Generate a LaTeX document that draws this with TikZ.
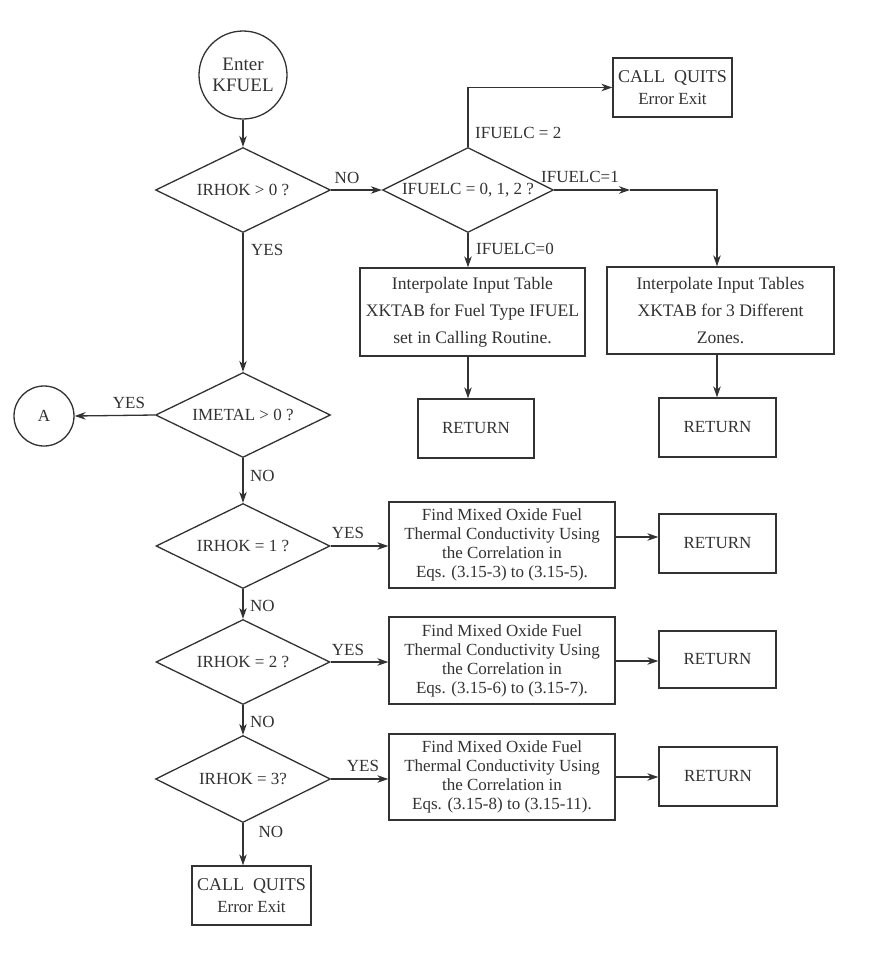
\documentclass[tikz,border=0pt]{standalone}
\usepackage{fontspec}
\setmainfont{Liberation Serif}
\usetikzlibrary{shapes.geometric,arrows.meta}
\definecolor{ink}{RGB}{50,50,50}
\tikzset{
  base/.style={draw=ink, line width=1.3pt, text=ink, inner sep=0pt,
    font=\fontsize{17}{19}\selectfont, align=center},
  decision/.style={base, diamond, shape aspect=2, minimum width=#1, minimum height=85pt},
  procbox/.style={base, rectangle, minimum width=226pt, minimum height=86pt},
  interpbox/.style={base, rectangle, minimum height=88pt, font=\fontsize{17.6}{27}\selectfont},
  retbox/.style={base, rectangle, minimum width=117pt, minimum height=59pt},
  quitbox/.style={base, rectangle, minimum width=119pt, minimum height=59pt, font=\fontsize{17}{22}\selectfont},
  termcircle/.style={base, circle},
  arr/.style={draw=ink, line width=1.3pt, -{Stealth[length=11pt,width=7.5pt,inset=3.5pt]}},
  lbl/.style={text=ink, inner sep=0pt, font=\fontsize{17}{19}\selectfont},
}
\begin{document}
\begin{tikzpicture}[x=1pt,y=-1pt]
\useasboundingbox (0,0) rectangle (888,959);
\fill[white] (0,0) rectangle (888,959);

% top section
\node[termcircle, minimum size=88pt, font=\fontsize{19}{21}\selectfont] (enter) at (243,75) {Enter\\KFUEL};
\node[decision=175pt] (d1) at (243,190) {IRHOK > 0 ?};
\node[decision=171pt] (d2) at (468,190) {IFUELC = 0, 1, 2 ?};
\node[quitbox] (q1) at (672.5,87.5) {{\fontsize{18}{22}\selectfont CALL\ \ QUITS}\\Error Exit};
\node[interpbox, minimum width=225pt] (i1) at (472.5,312) {Interpolate Input Table\\XKTAB for Fuel Type IFUEL\\set in Calling Routine.};
\node[interpbox, minimum width=227pt, minimum height=87pt] (i2) at (720.5,310.5) {Interpolate Input Tables\\XKTAB for 3 Different\\Zones.};
\node[retbox, minimum width=116pt] (r1) at (476,428.5) {RETURN};
\node[retbox] (r2) at (717.5,427.5) {RETURN};

% main column
\node[termcircle, minimum size=60pt] (A) at (44,416) {A};
\node[decision=175pt] (d3) at (243,415) {IMETAL > 0 ?};
\node[decision=174pt] (d4) at (243,546) {IRHOK = 1 ?};
\node[decision=174pt] (d5) at (243,662) {IRHOK = 2 ?};
\node[decision=175pt, minimum height=87pt] (d6) at (243,779) {IRHOK = 3?};

\node[procbox] (f1) at (502,545) {Find Mixed Oxide Fuel\\Thermal Conductivity Using\\the Correlation in\\Eqs. (3.15-3) to (3.15-5).};
\node[procbox, minimum height=87pt] (f2) at (502,660.5) {Find Mixed Oxide Fuel\\Thermal Conductivity Using\\the Correlation in\\Eqs. (3.15-6) to (3.15-7).};
\node[procbox] (f3) at (502,777) {Find Mixed Oxide Fuel\\Thermal Conductivity Using\\the Correlation in\\Eqs. (3.15-8) to (3.15-11).};

\node[retbox] (rA) at (717.5,543.5) {RETURN};
\node[retbox, minimum height=57pt] (rB) at (717.5,659.5) {RETURN};
\node[retbox, minimum width=118pt] (rC) at (718,776.5) {RETURN};
\node[quitbox] (q2) at (251.5,895.5) {{\fontsize{18}{22}\selectfont CALL\ \ QUITS}\\Error Exit};

% helper coordinates
\coordinate (m1) at (630,190);
\coordinate (k1) at (717,190);
\coordinate (y1) at (0,537);
\coordinate (y2) at (0,661);
\coordinate (y3) at (0,777);

% connectors
\draw[arr] (enter) -- (d1);
\draw[arr] (d1.east) -- (d2.west);
\draw[arr] (d2.north) |- (q1.west);
\draw[arr] (d2.east) -- (m1);
\draw[arr] (m1) -- (k1) -- (k1 |- i2.north);
\draw[arr] (d2.south) -- (d2.south |- i1.north);
\draw[arr] (d2.south |- i1.south) -- (d2.south |- r1.north);
\draw[arr] (k1 |- i2.south) -- (k1 |- r2.north);

\draw[arr] (d1) -- (d3);
\draw[arr] (d3.west) -- (A.east);
\draw[arr] (d3) -- (d4);
\draw[arr] (d4) -- (d5);
\draw[arr] (d5) -- (d6);
\draw[arr] (d6.south) -- (d6.south |- q2.north);

\draw[arr] (d4.east) -- (f1.west |- d4.east);
\draw[arr] (d5.east) -- (f2.west |- d5.east);
\draw[arr] (d6.east) -- (f3.west |- d6.east);
\draw[arr] (f1.east |- y1) -- (rA.west |- y1);
\draw[arr] (f2.east |- y2) -- (rB.west |- y2);
\draw[arr] (f3.east |- y3) -- (rC.west |- y3);

% labels
\node[lbl] (lno1) at (347,178) {NO};
\node[lbl, anchor=west] (lyes1) at (251,250) {YES};
\node[lbl, anchor=west] (lf2) at (475,133) {IFUELC = 2};
\node[lbl, anchor=west] (lf1) at (541,177) {IFUELC=1};
\node[lbl, anchor=west] (lf0) at (476,249) {IFUELC=0};
\node[lbl] (lyesA) at (129,403) {YES};
\node[lbl, anchor=west] (lno3) at (250,476) {NO};
\node[lbl] (lyes4) at (348,533) {YES};
\node[lbl, anchor=west] (lno4) at (250,606) {NO};
\node[lbl] (lyes5) at (348,650) {YES};
\node[lbl, anchor=west] (lno5) at (250,722) {NO};
\node[lbl] (lyes6) at (363,766) {YES};
\node[lbl] (lno6) at (271,832) {NO};
\end{tikzpicture}
\end{document}
